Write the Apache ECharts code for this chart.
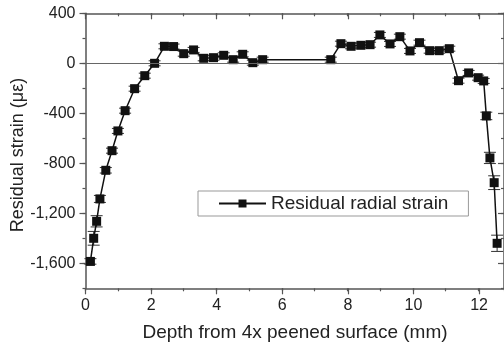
<!DOCTYPE html>
<html>
<head>
<meta charset="utf-8">
<script src="https://cdn.jsdelivr.net/npm/echarts@6/dist/echarts.min.js"></script>
<style>html,body{margin:0;padding:0;background:#fff}#c{width:504px;height:349px}</style>
</head>
<body>
<div id="c"></div>
<script>
const depth = [0.15,0.25,0.34,0.44,0.62,0.81,0.99,1.21,1.50,1.81,2.11,2.41,2.69,3.00,3.30,3.61,3.91,4.22,4.51,4.80,5.11,5.41,7.49,7.80,8.11,8.41,8.69,8.99,9.30,9.60,9.91,10.20,10.51,10.80,11.11,11.39,11.70,11.99,12.16,12.24,12.35,12.48,12.57];
const strain = [-1585,-1400,-1264,-1085,-856,-699,-541,-379,-203,-99,0,136,134,77,107,40,45,64,29,72,5,29,29,157,136,144,149,227,155,213,99,165,101,101,117,-139,-77,-115,-141,-421,-757,-955,-1440];
const strainErr = [22,55,45,28,22,20,20,20,20,20,20,20,20,20,20,20,20,20,20,20,20,20,20,20,20,20,20,20,20,20,20,20,20,20,20,20,20,20,20,30,45,55,65];
const seriesName = 'Residual radial strain';
const xTitle = 'Depth from 4x peened surface (mm)';
const yTitle = 'Residual strain (\u03bc\u03b5)';

const FONT = "'Liberation Sans', Arial, sans-serif";
const AX = '#555';
const TXT = '#222';
const pts = depth.map((d, i) => [d, strain[i]]);
const errs = depth.map((d, i) => [d, strain[i] - strainErr[i], strain[i] + strainErr[i]]);

const chart = echarts.init(document.getElementById('c'), null, {renderer: 'canvas'});
const noZero = {onZero: false};
chart.setOption({
  animation: false,
  backgroundColor: '#fff',
  textStyle: {fontFamily: FONT},
  grid: [
    {left: 85.5, top: 13.3, width: 419.2, height: 275},
    {left: 85.5, top: 13.3, width: 393.6, height: 275},
    {left: 85.5, top: 13.3, width: 419.2, height: 250}
  ],
  graphic: [
    {type: 'text', x: 295, y: 333, silent: true,
     style: {text: xTitle, font: "19px 'Liberation Sans', Arial, sans-serif", fill: TXT,
             textAlign: 'center', textVerticalAlign: 'middle'}},
    {type: 'text', x: 18, y: 155, rotation: Math.PI / 2, silent: true,
     style: {text: yTitle, font: "18px 'Liberation Sans', Arial, sans-serif", fill: TXT,
             textAlign: 'center', textVerticalAlign: 'middle'}}
  ],
  xAxis: [
    {gridIndex: 0, type: 'value', position: 'bottom', min: 0, max: 12.78, interval: 1,
     axisLine: {show: true, onZero: false, lineStyle: {color: AX, width: 1.5}},
     axisTick: {show: true, length: 3, lineStyle: {color: AX, width: 1.2}},
     axisLabel: {show: false}, splitLine: {show: false}},
    {gridIndex: 0, type: 'value', position: 'top', min: 0, max: 12.78, interval: 1,
     axisLine: {show: true, onZero: false, lineStyle: {color: AX, width: 1.5}},
     axisTick: {show: true, inside: true, length: 3, lineStyle: {color: AX, width: 1.2}},
     axisLabel: {show: false}, splitLine: {show: false}},
    {gridIndex: 1, type: 'value', position: 'bottom', min: 0, max: 12, interval: 2,
     axisLine: {show: false, onZero: false},
     axisTick: {show: true, length: 6, lineStyle: {color: AX, width: 1.2}},
     axisLabel: {show: true, margin: 9, fontSize: 16, color: TXT, fontFamily: FONT},
     splitLine: {show: false}},
    {gridIndex: 1, type: 'value', position: 'top', min: 0, max: 12, interval: 2,
     axisLine: {show: false, onZero: false},
     axisTick: {show: true, inside: true, length: 6, lineStyle: {color: AX, width: 1.2}},
     axisLabel: {show: false}, splitLine: {show: false}},
    {gridIndex: 2, type: 'value', min: 0, max: 12.78, show: false, axisLine: noZero}
  ],
  yAxis: [
    {gridIndex: 0, type: 'value', position: 'left', min: -1800, max: 400, interval: 200,
     axisLine: {show: true, onZero: false, lineStyle: {color: AX, width: 1.5}},
     axisTick: {show: true, length: 3, lineStyle: {color: AX, width: 1.2}},
     axisLabel: {show: false}, splitLine: {show: false}},
    {gridIndex: 0, type: 'value', position: 'right', min: -1800, max: 400, interval: 200,
     axisLine: {show: true, onZero: false, lineStyle: {color: AX, width: 1.5}},
     axisTick: {show: true, inside: true, length: 3, lineStyle: {color: AX, width: 1.2}},
     axisLabel: {show: false}, splitLine: {show: false}},
    {gridIndex: 1, type: 'value', min: -1800, max: 400, show: false, axisLine: noZero},
    {gridIndex: 2, type: 'value', position: 'left', min: -1600, max: 400, interval: 400,
     axisLine: {show: false, onZero: false},
     axisTick: {show: true, length: 6, lineStyle: {color: AX, width: 1.2}},
     axisLabel: {show: true, margin: 10, fontSize: 16, color: TXT, fontFamily: FONT},
     splitLine: {show: false}},
    {gridIndex: 2, type: 'value', position: 'right', min: -1600, max: 400, interval: 400,
     axisLine: {show: false, onZero: false},
     axisTick: {show: true, inside: true, length: 6, lineStyle: {color: AX, width: 1.2}},
     axisLabel: {show: false}, splitLine: {show: false}}
  ],
  legend: {
    data: [seriesName], left: 198, top: 191,
    borderColor: '#999', borderWidth: 1, padding: [3, 20, 3, 20],
    itemWidth: 47, itemHeight: 10,
    textStyle: {fontSize: 19, color: TXT, fontFamily: FONT}
  },
  series: [
    {
      type: 'custom', name: 'err', xAxisIndex: 0, yAxisIndex: 0, z: 1,
      data: errs, silent: true,
      renderItem: function (params, api) {
        const x = api.value(0);
        const lo = api.coord([x, api.value(1)]);
        const hi = api.coord([x, api.value(2)]);
        const hw = 6;
        const st = {stroke: '#333', lineWidth: 1};
        return {type: 'group', children: [
          {type: 'line', shape: {x1: lo[0], y1: lo[1], x2: hi[0], y2: hi[1]}, style: st},
          {type: 'line', shape: {x1: lo[0] - hw, y1: lo[1], x2: lo[0] + hw, y2: lo[1]}, style: st},
          {type: 'line', shape: {x1: hi[0] - hw, y1: hi[1], x2: hi[0] + hw, y2: hi[1]}, style: st}
        ]};
      }
    },
    {
      type: 'line', name: seriesName, xAxisIndex: 0, yAxisIndex: 0, z: 3,
      data: pts, symbol: 'rect', symbolSize: 9, showSymbol: true,
      lineStyle: {color: '#111', width: 1.5},
      itemStyle: {color: '#111'},
      markLine: {
        silent: true, symbol: 'none', label: {show: false},
        lineStyle: {color: '#666', width: 1, type: 'solid'},
        data: [{yAxis: 0}]
      }
    }
  ]
});
</script>
</body>
</html>
